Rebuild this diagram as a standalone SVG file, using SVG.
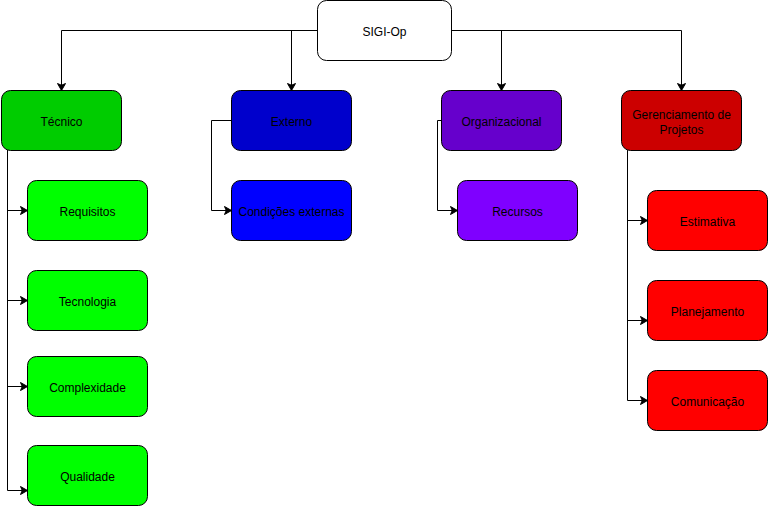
<svg xmlns="http://www.w3.org/2000/svg" width="768" height="506" viewBox="0 0 768 506">
<defs>
<marker id="arr" markerUnits="userSpaceOnUse" markerWidth="12" markerHeight="12" refX="8" refY="6" orient="auto">
<path d="M1,2 L8,6 L1,10 L2.75,6 Z" fill="#000" stroke="#000" stroke-width="1"/>
</marker>
<style>
.n rect{stroke:#000;stroke-width:1}
.n text{font-family:"Liberation Sans",Arial,sans-serif;font-size:12px;fill:#000;text-anchor:middle}
.c path{fill:none;stroke:#000;stroke-width:1}
.c .a{marker-end:url(#arr)}
</style>
</defs>
<rect width="768" height="506" fill="#fff"/>
<g class="c" id="connectors">
<path class="a" d="M317.5,30.5 H61.5 V90.5"/>
<path class="a" d="M317.5,30.5 H291.5 V90.5"/>
<path class="a" d="M451.5,30.5 H681.5 V90.5"/>
<path class="a" d="M451.5,30.5 H501.5 V90.5"/>
<path class="a" d="M7.5,150.5 V210.5 H27.5"/>
<path class="a" d="M7.5,150.5 V300.5 H27.5"/>
<path class="a" d="M7.5,150.5 V386.5 H27.5"/>
<path class="a" d="M7.5,150.5 V490.5 H27.5"/>
<path class="a" d="M231.5,120.5 H211.5 V210.5 H231.5"/>
<path class="a" d="M441.5,120.5 H437.5 V210.5 H457.5"/>
<path class="a" d="M627.5,150.5 V220.5 H647.5"/>
<path class="a" d="M627.5,150.5 V320.5 H647.5"/>
<path class="a" d="M627.5,150.5 V400.5 H647.5"/>
</g>
<g class="n" id="sigi"><rect x="317.5" y="0.5" width="134" height="60" rx="9" fill="#fff"/><text x="384.5" y="36">SIGI-Op</text></g>
<g class="n" id="tecnico"><rect x="1.5" y="90.5" width="120" height="60" rx="9" fill="#00cc00"/><text x="61.5" y="126">Técnico</text></g>
<g class="n" id="externo"><rect x="231.5" y="90.5" width="120" height="60" rx="9" fill="#0000cc"/><text x="291.5" y="126">Externo</text></g>
<g class="n" id="organizacional"><rect x="441.5" y="90.5" width="120" height="60" rx="9" fill="#6600cc"/><text x="501.5" y="126">Organizacional</text></g>
<g class="n" id="gerenciamento"><rect x="621.5" y="90.5" width="120" height="60" rx="9" fill="#cc0000"/><text x="681.5" y="119">Gerenciamento de</text><text x="681.5" y="133.5">Projetos</text></g>
<g class="n" id="requisitos"><rect x="27.5" y="180.5" width="120" height="60" rx="9" fill="#00ff00"/><text x="87.5" y="216">Requisitos</text></g>
<g class="n" id="tecnologia"><rect x="27.5" y="270.5" width="120" height="60" rx="9" fill="#00ff00"/><text x="87.5" y="306">Tecnologia</text></g>
<g class="n" id="complexidade"><rect x="27.5" y="356.5" width="120" height="60" rx="9" fill="#00ff00"/><text x="87.5" y="392">Complexidade</text></g>
<g class="n" id="qualidade"><rect x="27.5" y="445.5" width="120" height="60" rx="9" fill="#00ff00"/><text x="87.5" y="481">Qualidade</text></g>
<g class="n" id="condicoes"><rect x="231.5" y="180.5" width="120" height="60" rx="9" fill="#0000ff"/><text x="291.5" y="216">Condições externas</text></g>
<g class="n" id="recursos"><rect x="457.5" y="180.5" width="120" height="60" rx="9" fill="#7f00ff"/><text x="517.5" y="216">Recursos</text></g>
<g class="n" id="estimativa"><rect x="647.5" y="190.5" width="120" height="60" rx="9" fill="#ff0000"/><text x="707.5" y="226">Estimativa</text></g>
<g class="n" id="planejamento"><rect x="647.5" y="280.5" width="120" height="60" rx="9" fill="#ff0000"/><text x="707.5" y="316">Planejamento</text></g>
<g class="n" id="comunicacao"><rect x="647.5" y="370.5" width="120" height="60" rx="9" fill="#ff0000"/><text x="707.5" y="406">Comunicação</text></g>
</svg>
